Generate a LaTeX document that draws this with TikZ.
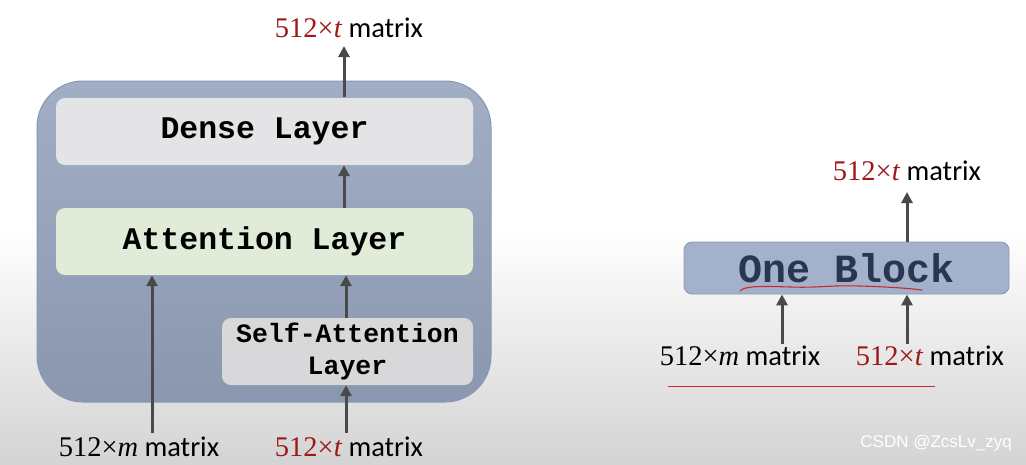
\documentclass[tikz,border=0pt]{standalone}
\usepackage{fontspec}
\setmainfont{Carlito}
\newfontfamily\mathser{Liberation Serif}
\newfontfamily\codefont{Liberation Mono}
\newfontfamily\wmfont{Liberation Sans}
\usetikzlibrary{arrows.meta}
\definecolor{outerblue}{HTML}{A2AEC6}
\definecolor{outerblueB}{HTML}{8B97AE}
\definecolor{outerline}{HTML}{8A98B6}
\definecolor{densefill}{HTML}{E4E4E7}
\definecolor{attfill}{HTML}{E0ECD7}
\definecolor{selffill}{HTML}{D8D8DB}
\definecolor{arrowgray}{HTML}{4A4A4A}
\definecolor{darkred}{HTML}{9E1818}
\definecolor{navy}{HTML}{283650}
\definecolor{blockfill}{HTML}{A3B1CB}
\definecolor{penred}{HTML}{D02828}
\newcommand{\mlabel}[1]{{\mathser #1}\hspace{0.22em}matrix}
\tikzset{
  arr/.style={draw=arrowgray, line width=3pt, -{Triangle[length=11pt,width=11pt]}},
  layerbox/.style={rounded corners=9pt, minimum width=417pt, minimum height=67pt, inner sep=0pt, align=center, font=\codefont\bfseries\fontsize{31.5}{31.5}\selectfont},
  lbl/.style={font=\fontsize{28.5}{28.5}\selectfont, inner sep=0pt, anchor=base},
}
\begin{document}
\begin{tikzpicture}[x=1pt,y=-1pt]
\useasboundingbox (0,0) rectangle (1026,464);
% background
\fill[white] (0,0) rectangle (1026,230);
\shade[top color=white, bottom color=black!17] (0,230) rectangle (1026,464);
% outer block
\shade[top color=outerblue, bottom color=outerblueB, rounded corners=46pt, draw=outerline, line width=1pt]
  (37,81) rectangle (491,402);
\node[layerbox, fill=densefill] (dense) at (264.5,131.5) {Dense\ Layer};
\node[layerbox, fill=attfill] (att) at (264.5,241.5) {Attention\ Layer};
\node[layerbox, fill=selffill, minimum width=251pt, font=\codefont\bfseries\fontsize{26.5}{32}\selectfont] (self) at (347.5,351.5) {Self-Attention\\Layer};
% labels
\node[lbl] (outL) at (349,37) {\mlabel{\textcolor{darkred}{512×\textit{t}}}};
\node[lbl] (inM) at (139,456) {\mlabel{512×\textit{m}}};
\node[lbl] (inT) at (349,456) {\mlabel{\textcolor{darkred}{512×\textit{t}}}};
\coordinate (o1) at (344,46);
\coordinate (d1) at (344,97);
\coordinate (i1) at (152,433);
\coordinate (i2) at (346,433);
\draw[arr] (d1) -- (o1);
\draw[arr] (att.north -| 344,0) -- (dense.south -| 344,0);
\draw[arr] (i1) -- (att.south -| i1);
\draw[arr] (self.north -| 346,0) -- (att.south -| 346,0);
\draw[arr] (i2) -- (self.south -| i2);
% right: one block
\node[rounded corners=8pt, fill=blockfill, draw=outerline, line width=0.8pt, minimum width=325pt, minimum height=52pt, inner sep=0pt, text=navy, font=\codefont\bfseries\fontsize{40}{40}\selectfont] (block) at (846.5,268) {One\ Block};
\node[lbl] (outR) at (907,180) {\mlabel{\textcolor{darkred}{512×\textit{t}}}};
\node[lbl] (inRM) at (740,365) {\mlabel{512×\textit{m}}};
\node[lbl] (inRT) at (930,365) {\mlabel{\textcolor{darkred}{512×\textit{t}}}};
\coordinate (o2) at (907,192);
\coordinate (r1) at (782,344);
\coordinate (r2) at (907,344);
\draw[arr] (block.north -| o2) -- (o2);
\draw[arr] (r1) -- (block.south -| r1);
\draw[arr] (r2) -- (block.south -| r2);
% red pen marks
\draw[penred, line width=1.1pt, line cap=round] (740,291) .. controls (744,286) and (760,286) .. (790,287) .. controls (820,288) and (830,285) .. (860,286) .. controls (890,287) and (905,288) .. (922,290);
\draw[penred, line width=1pt] (668,386) -- (935,386);
% watermark
\node[font=\wmfont\fontsize{17}{17}\selectfont, text=white, inner sep=0pt, anchor=base east] (wm) at (1012,447) {CSDN @ZcsLv\_zyq};
\end{tikzpicture}
\end{document}
